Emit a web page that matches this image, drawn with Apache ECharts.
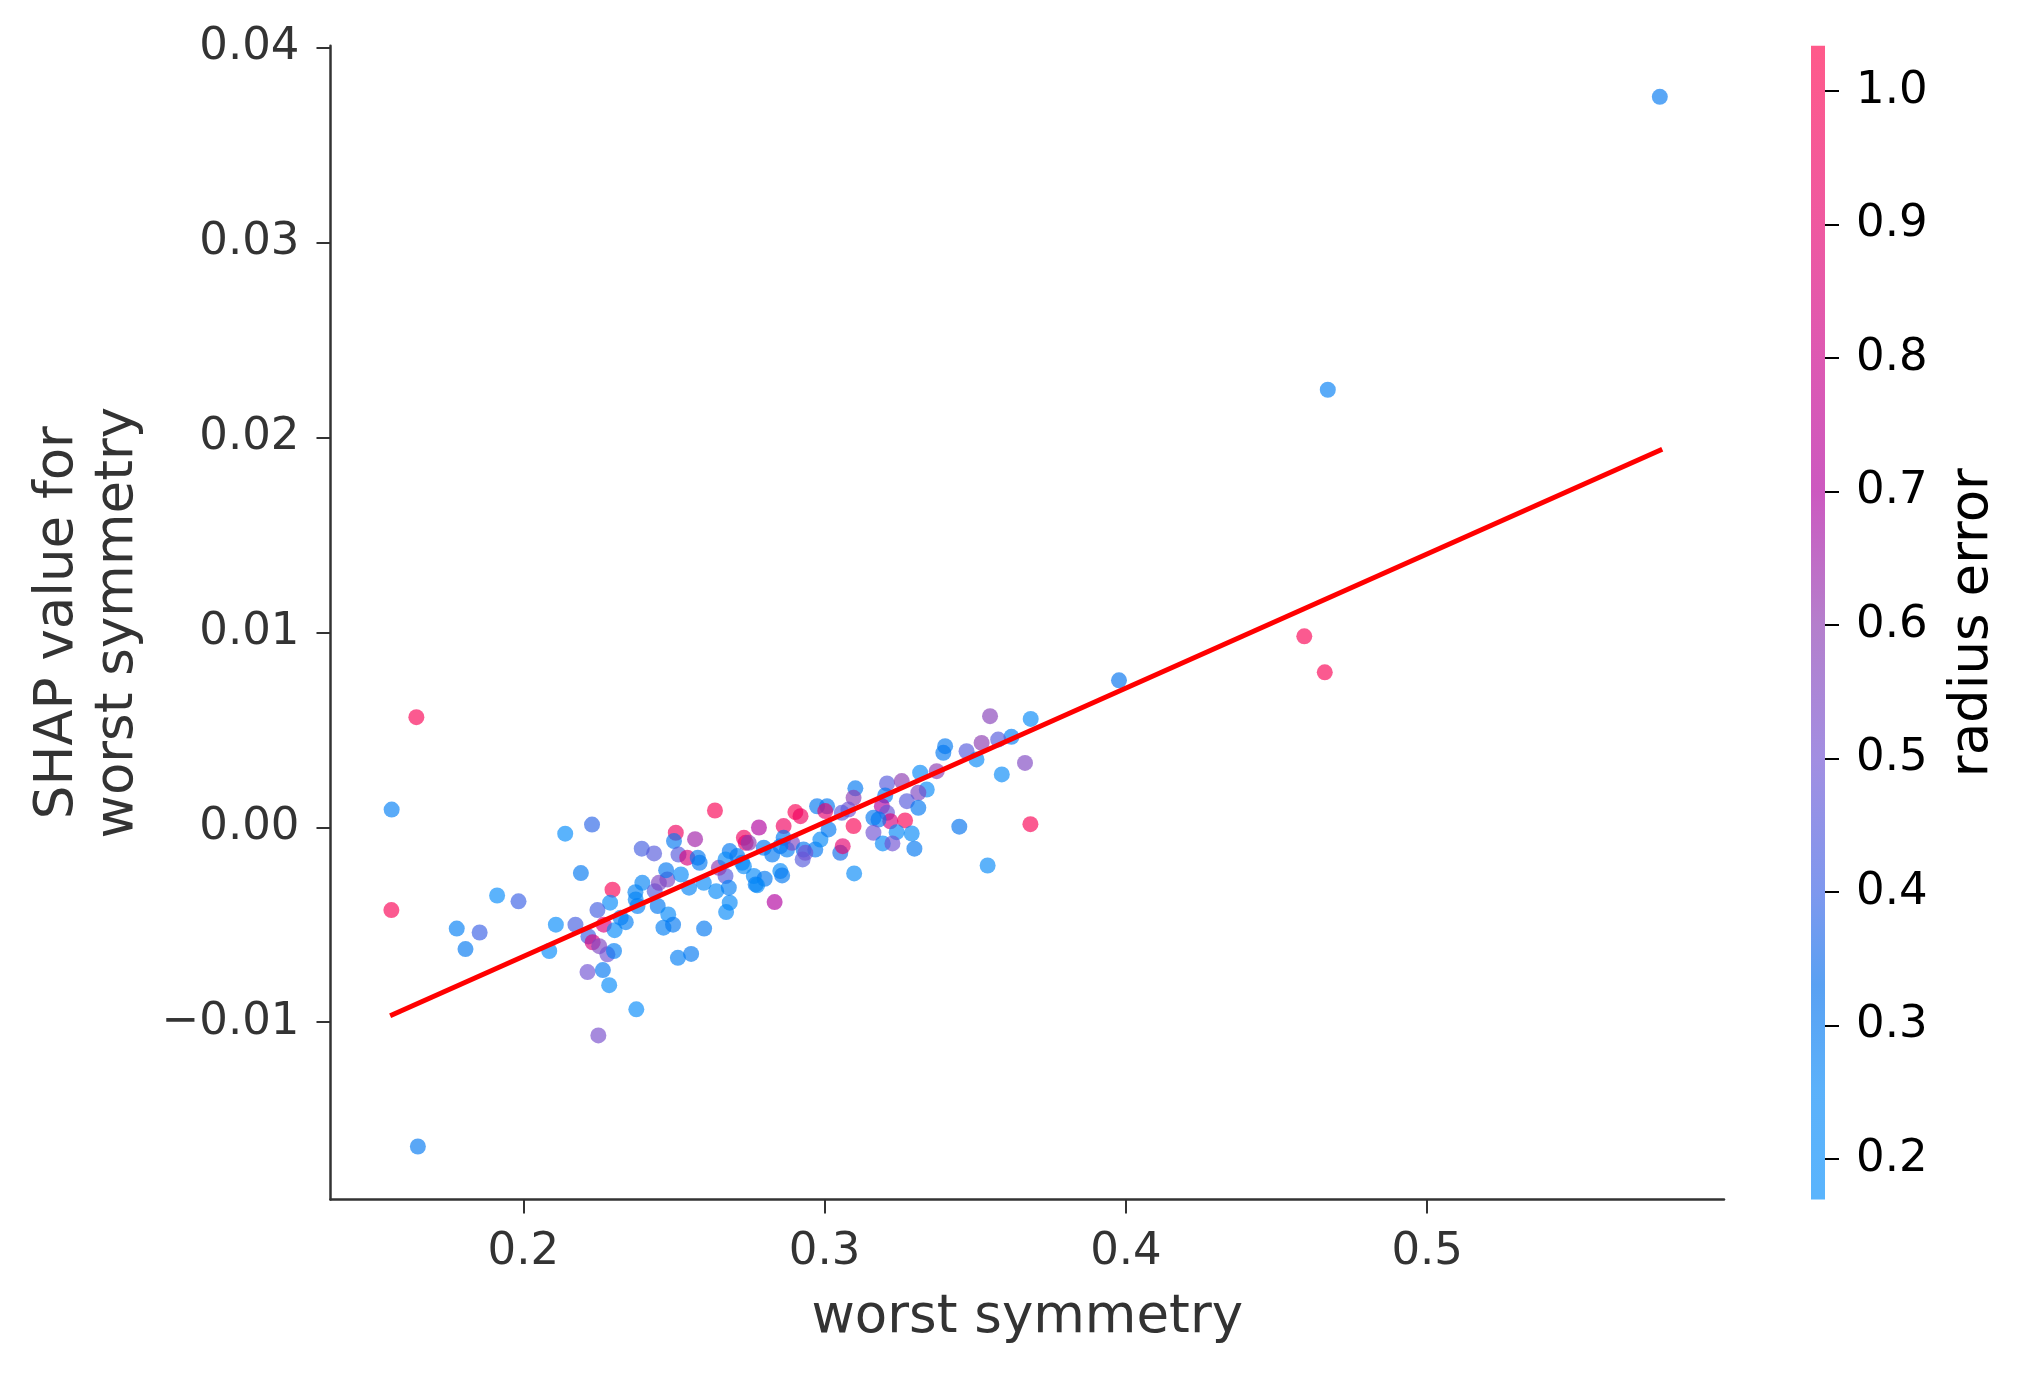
<!DOCTYPE html>
<html>
<head>
<meta charset="utf-8">
<script src="https://cdn.jsdelivr.net/npm/echarts@6/dist/echarts.min.js"></script>
<style>
html,body{margin:0;padding:0;background:#fff;}
#chart{width:2025px;height:1373px;}
</style>
</head>
<body>
<div id="chart"></div>
<script>
// ---- data ----
const worstSymmetry = [
0.1563,0.1562,0.2139,0.2228,0.2636,0.2506,0.2570,0.2191,0.1913,0.1984,
0.1779,0.1855,0.1808,0.2108,0.2086,0.2173,0.2296,0.2288,0.2246,0.2267,
0.2303,0.2340,0.2323,0.2216,0.2230,0.2252,0.2279,0.2301,0.2213,0.2264,
0.2285,0.2375,0.2249,0.2372,0.2395,0.2373,0.2379,0.2446,0.2436,0.2450,
0.2478,0.2474,0.2523,0.2393,0.2434,0.2500,0.2515,0.2544,0.2579,0.2585,
0.2550,0.2599,0.2481,0.2465,0.2497,0.2600,0.2513,0.2557,0.2640,0.2673,
0.2685,0.2671,0.2649,0.2682,0.2685,0.2671,0.2732,0.2738,0.2782,0.2726,
0.2765,0.2771,0.2710,0.3102,0.3207,0.3256,0.3339,0.3311,0.3273,0.3311,
0.3201,0.3190,0.3207,0.3218,0.3267,0.3162,0.3179,0.3162,0.3239,0.3289,
0.3193,0.3225,0.3298,0.3447,0.3541,0.3683,0.3096,0.3079,0.3096,0.3057,
0.3008,0.2975,0.3002,0.2903,0.2920,0.2864,0.2798,0.2826,0.2864,0.2875,
0.2892,0.2930,0.2927,0.2969,0.2986,0.3013,0.3052,0.3060,0.3098,0.2732,
0.2801,0.2776,0.2853,0.2859,0.2834,0.2853,0.2936,0.3317,0.3372,0.3394,
0.3400,0.3549,0.3684,0.3620,0.3576,0.3521,0.3471,0.3504,0.3665,0.3588,
0.3977,0.4592,0.4660,0.1645,0.1650,0.5772,0.4670,0.2748
];
const shapValues = [
0.00091,-0.00425,-0.00033,0.00014,0.00086,-0.00028,-0.00061,-0.00235,-0.00350,-0.00380,
-0.00520,-0.00540,-0.00625,-0.00500,-0.00635,-0.00500,-0.00320,-0.00387,-0.00425,-0.00500,
-0.00528,-0.00487,-0.00464,-0.00560,-0.00590,-0.00610,-0.00652,-0.00635,-0.00743,-0.00733,
-0.00810,-0.00934,-0.01068,-0.00333,-0.00285,-0.00370,-0.00404,-0.00404,-0.00328,-0.00285,
-0.00268,-0.00220,-0.00242,-0.00110,-0.00134,-0.00071,-0.00140,-0.00156,-0.00156,-0.00182,
-0.00310,-0.00285,-0.00447,-0.00515,-0.00500,-0.00520,-0.00670,-0.00650,-0.00328,-0.00435,
-0.00387,-0.00250,-0.00208,-0.00310,-0.00122,-0.00165,-0.00054,-0.00080,-0.00001,-0.00182,
-0.00250,-0.00293,-0.00148,0.00200,0.00225,0.00237,0.00194,0.00177,0.00134,0.00100,
0.00163,0.00108,0.00074,0.00031,0.00035,0.00049,0.00040,-0.00028,-0.00025,-0.00032,
-0.00083,-0.00083,-0.00110,0.00003,-0.00196,0.00016,0.00151,0.00091,0.00006,0.00074,
0.00108,0.00108,0.00083,0.00078,0.00057,0.00006,-0.00105,-0.00140,-0.00054,-0.00114,
-0.00080,-0.00114,-0.00165,-0.00114,-0.00063,-0.00011,-0.00131,-0.00097,-0.00237,-0.00200,
-0.00264,-0.00298,-0.00225,-0.00247,-0.00384,-0.00097,-0.00131,0.00280,0.00288,0.00382,
0.00416,0.00570,0.00556,0.00464,0.00450,0.00433,0.00390,0.00348,0.00330,0.00271,
0.00754,0.00980,0.00795,0.00565,-0.01638,0.03748,0.02245,-0.00080
];
const radiusError = [
0.28,1.00,0.20,0.38,1.00,0.95,0.65,0.30,0.22,0.40,
0.28,0.40,0.30,0.22,0.22,0.42,1.00,0.22,0.42,0.85,
0.22,0.28,0.28,0.40,0.85,0.55,0.50,0.28,0.50,0.30,
0.22,0.22,0.52,0.27,0.27,0.27,0.28,0.30,0.45,0.55,
0.55,0.30,0.24,0.42,0.45,0.30,0.45,0.85,0.30,0.30,
0.27,0.24,0.24,0.28,0.30,0.30,0.28,0.30,0.23,0.24,
0.24,0.45,0.60,0.28,0.30,0.24,0.95,0.90,0.70,0.24,
0.24,0.28,0.30,0.30,0.45,0.60,0.25,0.55,0.45,0.30,
0.30,0.70,0.48,0.85,1.00,0.30,0.30,0.50,0.25,0.25,
0.25,0.50,0.30,0.32,0.25,1.00,0.60,0.50,1.00,0.45,
0.30,0.30,0.90,1.00,0.95,0.95,0.30,0.30,0.30,0.28,
0.55,0.30,0.45,0.30,0.25,0.30,0.35,0.90,0.25,0.25,
0.30,0.25,0.25,0.30,0.70,0.30,0.50,0.25,0.60,0.30,
0.30,0.58,0.25,0.28,0.45,0.60,0.45,0.25,0.55,0.25,
0.32,1.00,1.00,1.00,0.30,0.30,0.28,0.60
];
// fitted trend line end points
const trendX = [0.1558, 0.5780];
const trendY = [-0.00967, 0.01940];

// tick values & labels
const xTickValues = [0.2, 0.3, 0.4, 0.5];
const xTickLabels = ['0.2', '0.3', '0.4', '0.5'];
const yTickValues = [-0.01, 0.00, 0.01, 0.02, 0.03, 0.04];
const yTickLabels = ['\u22120.01', '0.00', '0.01', '0.02', '0.03', '0.04'];
const cbTickValues = [0.2, 0.3, 0.4, 0.5, 0.6, 0.7, 0.8, 0.9, 1.0];
const cbTickLabels = ['0.2', '0.3', '0.4', '0.5', '0.6', '0.7', '0.8', '0.9', '1.0'];

// ---- styling ----
const X_MIN = 0.1360, X_MAX = 0.5985;
const Y_MIN = -0.0191, Y_MAX = 0.0401;
const CB_MIN = 0.1696, CB_MAX = 1.034;
const cmapStops = [
  [0.17, [1, 140, 252]],
  [0.25, [4, 136, 248]],
  [0.33, [0, 110, 236]],
  [0.40, [57, 96, 229]],
  [0.50, [112, 81, 210]],
  [0.60, [140, 58, 177]],
  [0.70, [177, 0, 158]],
  [0.80, [203, 0, 137]],
  [0.90, [230, 0, 109]],
  [1.034, [255, 1, 75]]
];
const ALPHA = 0.65;
function cmap(v) {
  if (v <= cmapStops[0][0]) return rgb(cmapStops[0][1]);
  for (let i = 1; i < cmapStops.length; i++) {
    if (v <= cmapStops[i][0]) {
      const a = cmapStops[i - 1], b = cmapStops[i];
      const t = (v - a[0]) / (b[0] - a[0]);
      return rgb(a[1].map((c, k) => c + (b[1][k] - c) * t));
    }
  }
  return rgb(cmapStops[cmapStops.length - 1][1]);
}
function rgb(a) { return 'rgb(' + a.map(c => Math.round(c)).join(',') + ')'; }
function labelFor(vals, labels) {
  return function (v) {
    for (let i = 0; i < vals.length; i++) if (Math.abs(v - vals[i]) < 1e-9) return labels[i];
    return '';
  };
}

const FONT = 'DejaVu Sans';
const points = worstSymmetry.map((x, i) => [x, shapValues[i], radiusError[i]]);
const trend = trendX.map((x, i) => [x, trendY[i]]);

const chart = echarts.init(document.getElementById('chart'), null, { renderer: 'canvas' });
chart.setOption({
  backgroundColor: '#ffffff',
  animation: false,
  textStyle: { fontFamily: FONT },
  grid: [
    { left: 330.5, top: 45.8, right: 301, bottom: 173.5 },
    { left: 1811, top: 45.8, width: 14, bottom: 173.5 }
  ],
  xAxis: [
    {
      type: 'value', gridIndex: 0, min: X_MIN, max: X_MAX,
      name: 'worst symmetry', nameLocation: 'middle', nameGap: 92,
      nameTextStyle: { fontSize: 53, color: '#333333', fontFamily: FONT },
      splitLine: { show: false },
      axisLine: { show: true, onZero: false, lineStyle: { color: '#333333', width: 2.5 } },
      axisTick: { show: true, inside: false, customValues: xTickValues, length: 14, lineStyle: { color: '#333333', width: 2 } },
      axisLabel: { customValues: xTickValues, formatter: labelFor(xTickValues, xTickLabels), fontSize: 45, color: '#333333', margin: 30, fontFamily: FONT }
    },
    { type: 'value', gridIndex: 1, min: 0, max: 1, show: false }
  ],
  yAxis: [
    {
      type: 'value', gridIndex: 0, min: Y_MIN, max: Y_MAX,
      name: 'SHAP value for\nworst symmetry', nameLocation: 'middle', nameGap: 182, nameRotate: 90,
      nameTextStyle: { fontSize: 53, color: '#333333', fontFamily: FONT, lineHeight: 60, align: 'center' },
      splitLine: { show: false },
      axisLine: { show: true, onZero: false, lineStyle: { color: '#333333', width: 2.5 } },
      axisTick: { show: true, inside: false, customValues: yTickValues, length: 14, lineStyle: { color: '#333333', width: 2 } },
      axisLabel: { customValues: yTickValues, formatter: labelFor(yTickValues, yTickLabels), fontSize: 45, color: '#333333', margin: 31, fontFamily: FONT }
    },
    {
      type: 'value', gridIndex: 1, min: CB_MIN, max: CB_MAX, position: 'right',
      name: 'radius error', nameLocation: 'middle', nameGap: 122, nameRotate: 90,
      nameTextStyle: { fontSize: 53, color: '#000000', fontFamily: FONT },
      splitLine: { show: false },
      axisLine: { show: false, onZero: false },
      axisTick: { show: true, inside: false, customValues: cbTickValues, length: 14, lineStyle: { color: '#000000', width: 2 } },
      axisLabel: { inside: false, customValues: cbTickValues, formatter: labelFor(cbTickValues, cbTickLabels), fontSize: 45, color: '#000000', margin: 31, fontFamily: FONT }
    }
  ],
  series: [
    {
      type: 'scatter', xAxisIndex: 0, yAxisIndex: 0, data: points,
      symbolSize: 16, z: 2,
      itemStyle: { opacity: ALPHA, color: p => cmap(p.value[2]) },
      emphasis: { disabled: true }
    },
    {
      type: 'line', xAxisIndex: 0, yAxisIndex: 0, data: trend, symbol: 'none', z: 3,
      lineStyle: { color: '#ff0000', width: 5 }
    },
    {
      type: 'custom', xAxisIndex: 1, yAxisIndex: 1, data: [[0, CB_MIN, CB_MAX]], z: 1,
      renderItem: function (params, api) {
        const p0 = api.coord([0, api.value(1)]);
        const p1 = api.coord([1, api.value(2)]);
        const span = CB_MAX - CB_MIN;
        const stops = cmapStops.map(s => ({ offset: Math.min(1, Math.max(0, (s[0] - CB_MIN) / span)), color: rgb(s[1]) }));
        return {
          type: 'rect',
          shape: { x: p0[0], y: p1[1], width: p1[0] - p0[0], height: p0[1] - p1[1] },
          style: { fill: new echarts.graphic.LinearGradient(0, 1, 0, 0, stops), opacity: ALPHA }
        };
      }
    }
  ]
});
</script>
</body>
</html>
